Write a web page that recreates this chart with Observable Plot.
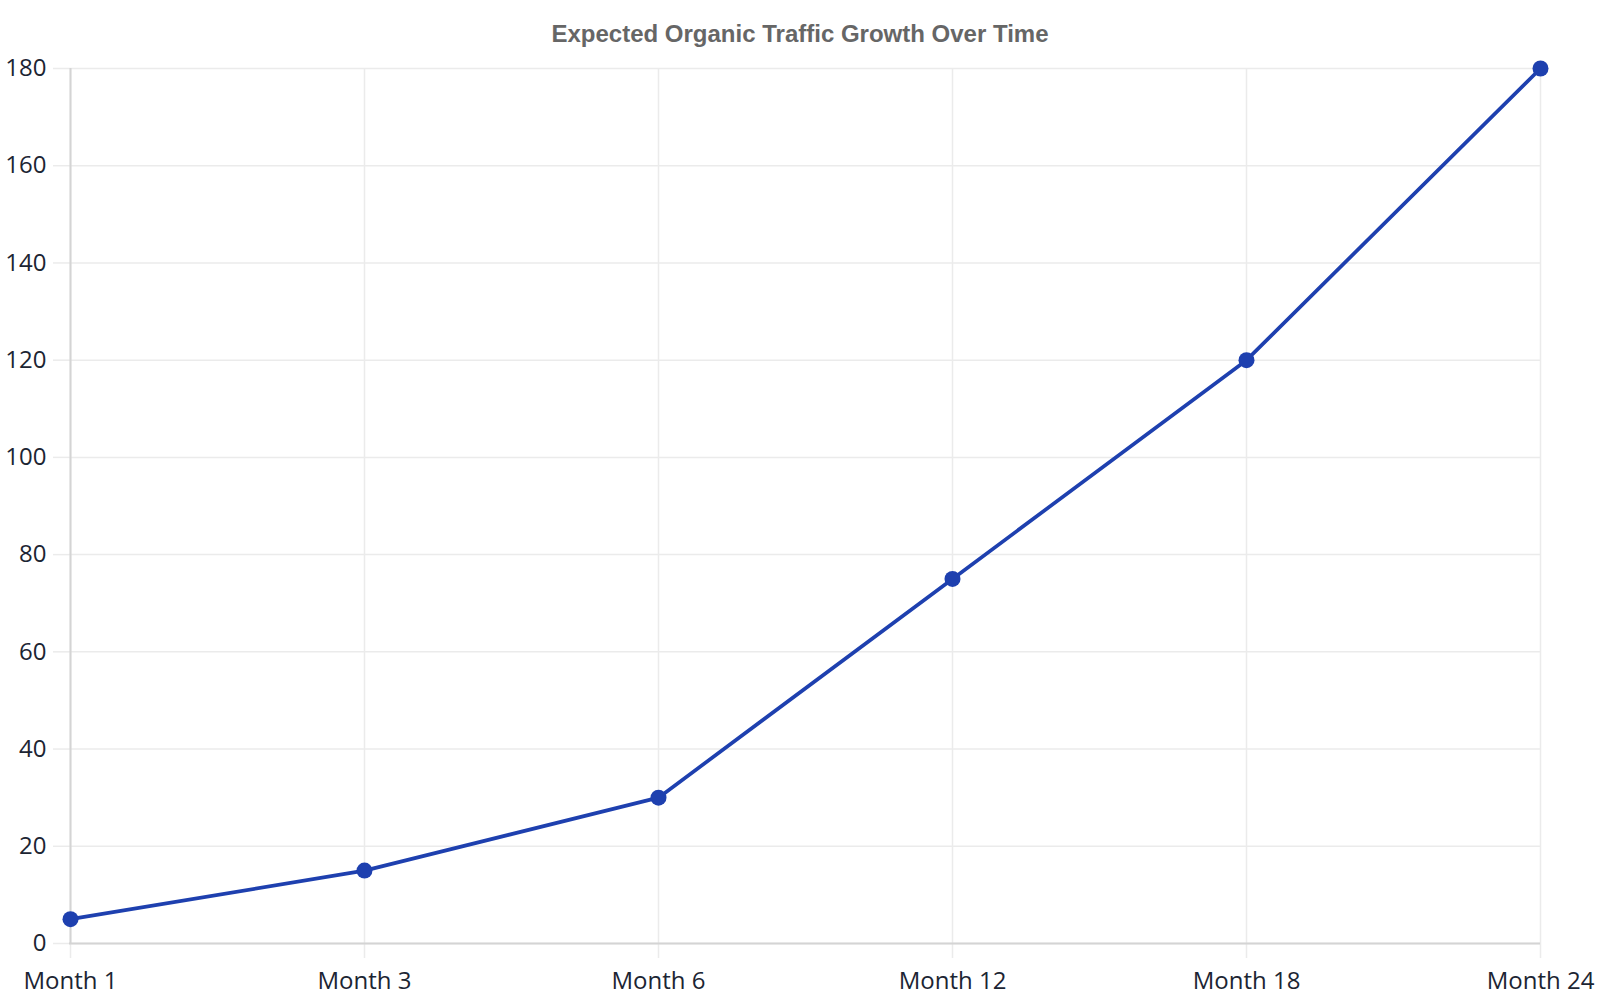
<!DOCTYPE html>
<html>
<head>
<meta charset="utf-8">
<script src="https://cdn.jsdelivr.net/npm/d3@7"></script>
<script src="https://cdn.jsdelivr.net/npm/@observablehq/plot@0.6"></script>
<style>
  html, body { margin: 0; padding: 0; background: #fff; }
  #title { width: 1600px; height: 56px; box-sizing: border-box; padding-top: 21px; text-align: center;
    font: bold 24px "Liberation Sans", Arial, sans-serif; line-height: 26px; color: #666; }
  #chart svg { overflow: visible; }
</style>
</head>
<body>
<div id="title">Expected Organic Traffic Growth Over Time</div>
<div id="chart"></div>
<script>
const months = ["Month 1", "Month 3", "Month 6", "Month 12", "Month 18", "Month 24"];
const traffic = [5, 15, 30, 75, 120, 180];
const yTicks = [0, 20, 40, 60, 80, 100, 120, 140, 160, 180];

const data = months.map((m, i) => ({month: m, value: traffic[i]}));

const textColor = "#1c2533";
const gridColor = "#ebebeb";
const axisColor = "#d4d4d4";
const lineColor = "#1e40af";

const chart = Plot.plot({
  width: 1600,
  height: 944,
  marginLeft: 69,
  marginRight: 60,
  marginTop: 12,
  marginBottom: 57,
  style: {fontFamily: "'Open Sans', 'Noto Sans', sans-serif", fontSize: "24px", color: textColor, background: "#fff"},
  x: {type: "point", domain: months, padding: 0},
  y: {domain: [0, 180]},
  marks: [
    Plot.gridX(months, {stroke: gridColor, strokeOpacity: 1, strokeWidth: 1.5}),
    Plot.gridY(yTicks, {stroke: gridColor, strokeOpacity: 1, strokeWidth: 1.5}),
    Plot.axisY(yTicks, {tickSize: 16, tickPadding: 7, stroke: gridColor, strokeWidth: 1.5, fill: textColor, label: null}),
    Plot.axisX(months, {tickSize: 15, tickPadding: 13, stroke: gridColor, strokeWidth: 1.5, fill: textColor, label: null}),
    Plot.ruleY([0], {stroke: axisColor, strokeWidth: 2}),
    Plot.ruleX([months[0]], {stroke: axisColor, strokeWidth: 2}),
    Plot.line(data, {x: "month", y: "value", stroke: lineColor, strokeWidth: 3.7}),
    Plot.dot(data, {x: "month", y: "value", r: 8, fill: lineColor, stroke: "none"})
  ]
});
document.getElementById("chart").append(chart);
</script>
</body>
</html>
